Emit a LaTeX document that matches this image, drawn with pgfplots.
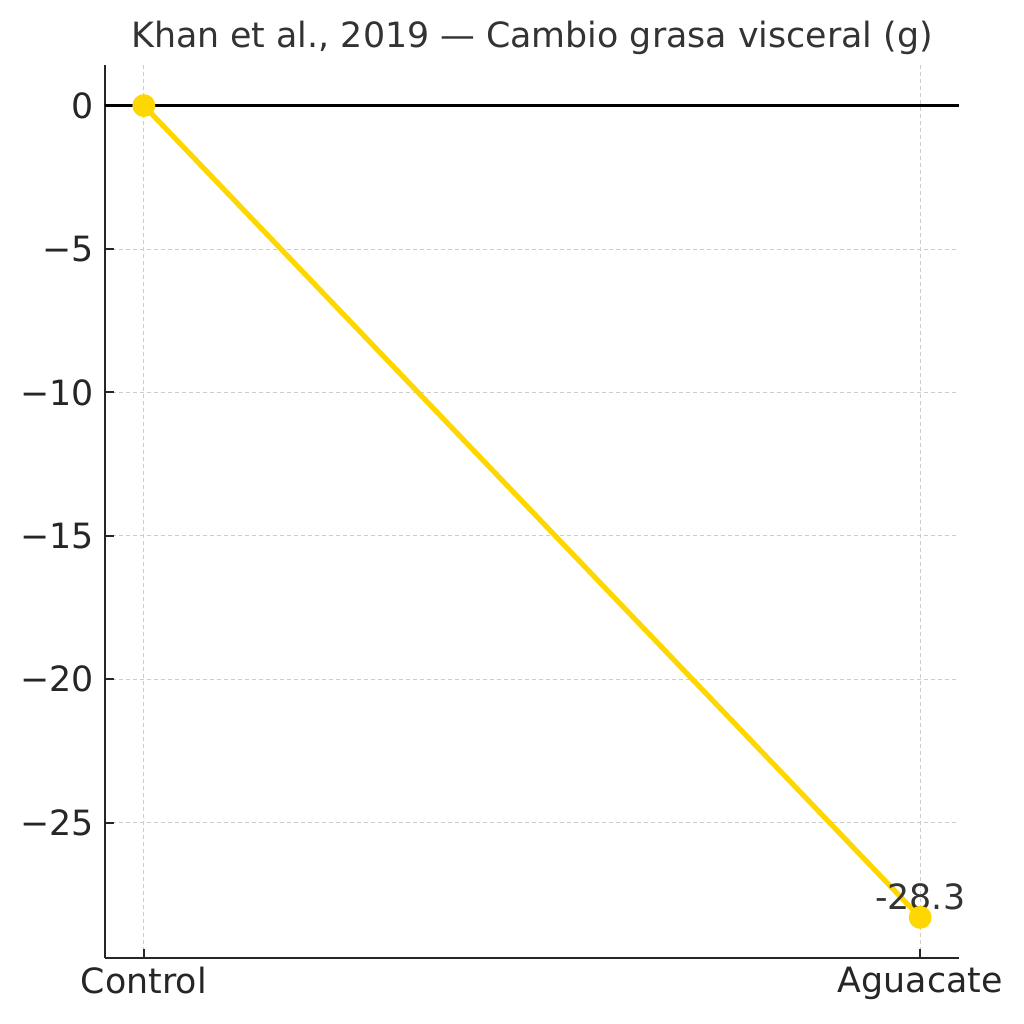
\documentclass[border=0pt]{standalone}
\usepackage{fontspec}
\setmainfont{DejaVu Sans}
\usepackage{pgfplots}
\pgfplotsset{compat=1.18}
\definecolor{gold}{HTML}{FFD700}
\definecolor{txt}{HTML}{333333}
\definecolor{tck}{HTML}{262626}
\begin{document}
\begin{tikzpicture}
\begin{axis}[
  scale only axis,
  width=427pt, height=446.5pt,
  xmin=-0.05, xmax=1.05,
  ymin=-29.715, ymax=1.415,
  axis x line*=bottom,
  axis y line*=left,
  axis line style={-, line width=1.4pt, color=tck},
  tick align=inside,
  major tick length=4.5pt,
  tick style={line width=1pt, color=tck},
  xtick={0,1},
  xticklabels={Control,Aguacate},
  ytick={-25,-20,-15,-10,-5,0},
  yticklabels={−25,−20,−15,−10,−5,0},
  ticklabel style={font=\fontsize{17.4}{20}\selectfont, text=tck},
  yticklabel style={xshift=-2pt},
  xticklabel style={yshift=-1pt},
  grid=major,
  major grid style={dash pattern=on 2pt off 1.5pt, color=black!20, line width=0.5pt},
  title={Khan et al., 2019 — Cambio grasa visceral (g)},
  title style={font=\fontsize{17.4}{20}\selectfont, text=txt, anchor=base, yshift=2.5pt},
  clip=false,
]
\addplot[black, line width=1.3pt, forget plot] coordinates {(-0.05,0) (1.05,0)};
\addplot[color=gold, line width=2.6pt, mark=*, mark size=4.4pt,
  mark options={fill=gold, draw=none}] coordinates {(0,0) (1,-28.3)};
\node[anchor=base, yshift=4pt, text=txt, font=\fontsize{17.4}{20}\selectfont, inner sep=0pt]
  at (axis cs:1,-28.3) {-28.3};
\end{axis}
\path (current axis.south west) ++(-52.5pt,-33pt) rectangle
      ([xshift=32.5pt, yshift=32.5pt]current axis.north east);
\end{tikzpicture}
\end{document}
